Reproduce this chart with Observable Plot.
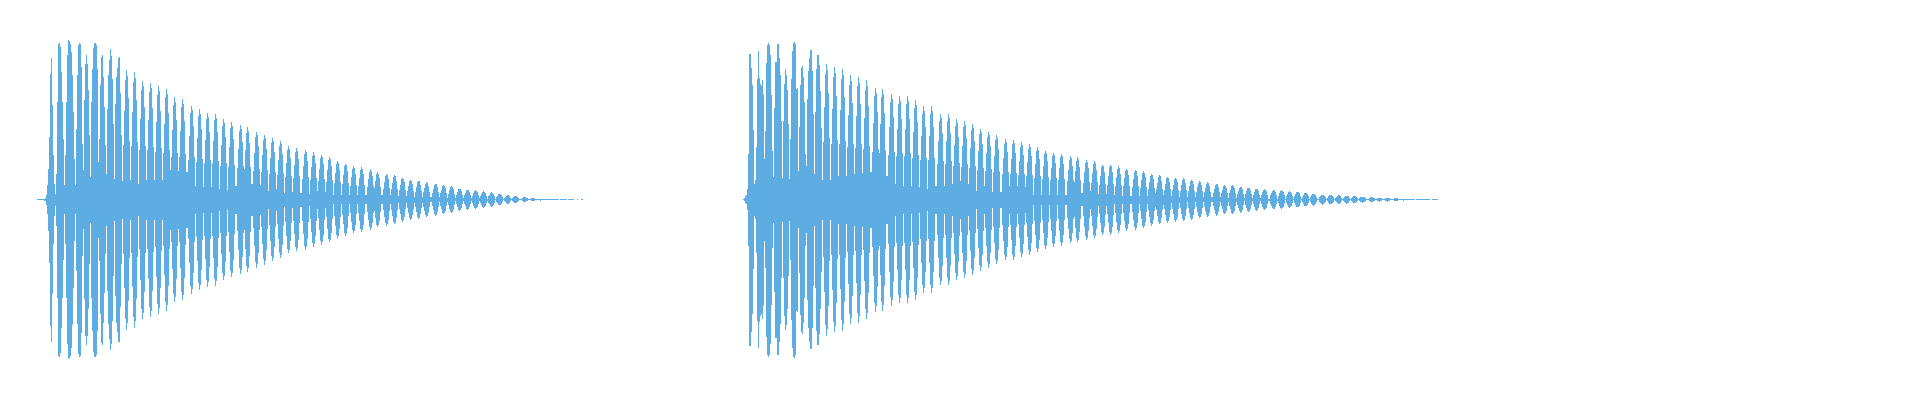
<!DOCTYPE html>
<html><head><meta charset="utf-8">
<script src="https://cdn.jsdelivr.net/npm/d3@7"></script>
<script src="https://cdn.jsdelivr.net/npm/@observablehq/plot@0.6"></script>
<style>html,body{margin:0;padding:0;background:#fff}svg{display:block}</style>
</head><body><div id="chart"></div>
<script>
const onsetStartA = 45;
const onsetA = [1.2,5,14.5,31,63,126,142,94.5,44.5,16,6,26,98,156,157,153,128,98,60.5,14.5,44.5,98,144.5,159.5,158.5,156,148,125,88,41,14.5,71,124.5,154.5,157,156,133,56,29.5,99.5,136,145,136,109.5,64.5,23,98,131,152,157,157,155,131,38,61,114.5,143,145,123,93,54.5,26,91,124.5,139.5,150.5,144,121,76,21,96,123,132,142,142.5,107,64.5,19];
const positionsA = [126.7,134.3,142.7,150.3,158.3,166.3,174.7,182.7,191,199,207.3,215.3,223.3,231.3,240,247.6,256,264,272.3,280.3,288.7,296.7,305,313,321,329,337.3,345.3,353.7,361.7,370,377.7,386,394,402.7,410.3,418.7,426.7,435,443,451,459.3,467,475.3,483.3,491.3,499.3,507.7,515.7,524,532.3,540.3,548.3];
const peaksA = [130,128,119,117,114,111,102.3,100.3,94,90.3,87,86,80.3,77.7,74.3,72.3,68,65,61.3,58.3,53.3,51.3,50,47.3,45,42.7,38.3,36,33.3,32.3,30.3,27.3,26,24.3,22,20,19,17.3,16,14.3,13.3,11,10,9.3,8.3,7.3,5.7,4.3,3.3,2.3,1.3,1,.7];
const floorsA = [20,16,20,20,20,30,29,28,14,13,13,11,10,14,16,16,15,9,11,7,8,7,6,9,8,4.3,4.3,4.3,4.3,4.3,6.7,4.3,4.3,3.7,3.3,3,3,2.5,2.3,2,1.8,1.5,1.3,1.1,1,.8,.7,.7,.5,.5,.5,.5,.5];
const onsetStartB = 743;
const onsetB = [.5,1.8,3.5,4.5,10.5,46,146,146,132,114.5,69.5,16,19.5,53,121,148.5,122,116,114,119.5,106,41,68.5,137,155,157,155,144.5,105,48.5,23,92,138,138,155.5,155.5,142,124.5,78.5,22,78.5,116,130.5,125,109.5,76,21,60.5,120.5,148.5,157,158,155.5,111,112,28.5,73,115,132,134,123,98,46,33.5,100.5,128.5,142,149.5,149.5,128.5,86,26,88,131,145,145,134.5,109,72,20];
const positionsB = [826.7,834.3,842.7,850.3,858.7,866.3,875,882.7,891.3,899,907.3,915.3,923.3,931.3,940,948,956,964,972,980,988.3,996.7,1005,1013,1021,1029,1037.3,1045.3,1053.7,1061.7,1070,1077.7,1086,1094,1102.3,1110.3,1118.7,1126.7,1135,1143,1151,1159,1167.3,1175.3,1183.7,1191.7,1199.7,1207.7,1216,1224,1232.3,1240.3,1248.7,1256.7,1264.7,1273,1281.3,1289.3,1297.7,1305.7,1313.7,1322,1330.3,1338.3,1346.3,1354.7,1362.7,1371,1379,1387,1395,1403.3,1411.7,1419.3];
const peaksB = [136,132.7,131,124.3,123,119.3,112,111,106,103.3,103.3,100,93.3,93.3,85.7,85.3,80.3,78.3,75.3,71,68,64.3,60.3,60,57.3,55.3,52.3,49,47,46,43.3,42.3,40,38.3,35,35,33.3,31,30,28.3,26,24.3,23,22,21.3,20,18.3,17.3,16,14.7,14.3,13,12,11,10.3,9.7,9.3,8.3,7.7,6.7,6,5,4.7,4.3,4,3.7,3,2.3,2,2,1.3,1,.7,.7];
const floorsB = [20,24,24,26,27,28,31,24,16,14,14,13,11,14,14,16,19,16,9,14,8,8,14,14,13,5,5,5,5,5,6,6.7,9,6,6,4.5,4,4,4,4,7,5,3.3,3,2.7,2.7,2.7,2.5,2.2,2,2,1.8,1.5,1.2,1,1,.8,.7,.7,.7,.6,.5,.5,.5,.5,.5,.5,.5,.5,.5,.5,.5];
const pulseOffsets = [-3,-2,-1,0,1,2,3];
const pulseLevels = [.42,.68,.92,1,.95,.78,.45];
const leadA = [[37,44,.5],[44,45,1]];
const tailA = [[552,559,.5],[560,567,.5],[568,574,.5],[577,578,.5],[581,583,.5]];
const tailB = [[1423,1430,.5],[1432,1438,.5]];
const barColor = "#5dade2";

const cols = [];
function addSeries(onsetStart, onset, pos, peaks, floors, lead, tail) {
  lead.forEach(([a,b,v]) => cols.push({x1:a,x2:b,v}));
  onset.forEach((v,i) => cols.push({x1:onsetStart+i,x2:onsetStart+i+1,v}));
  pos.forEach((p,i) => {
    const c = Math.floor(p);
    const next = i + 1 < pos.length ? Math.floor(pos[i+1]) : c + 4;
    cols.push({x1:c, x2:next, v:floors[i]});
    pulseOffsets.forEach((o,j) => cols.push({x1:c+o, x2:c+o+1, v:Math.max(peaks[i]*pulseLevels[j], 0.5)}));
  });
  tail.forEach(([a,b,v]) => cols.push({x1:a,x2:b,v}));
}
addSeries(onsetStartA, onsetA, positionsA, peaksA, floorsA, leadA, tailA);
addSeries(onsetStartB, onsetB, positionsB, peaksB, floorsB, [], tailB);

const chart = Plot.plot({
  width:1920, height:400, marginTop:39.5, marginBottom:40.5, marginLeft:0, marginRight:0,
  x:{domain:[0,1920], axis:null},
  y:{domain:[-160,160], axis:null},
  style:{background:"#fff"},
  marks:[
    Plot.rect(cols,{x1:"x1",x2:"x2",y1:d=>-d.v,y2:d=>d.v,fill:barColor,inset:0,shapeRendering:"crispEdges"})
  ]
});
document.getElementById("chart").append(chart);
</script></body></html>
